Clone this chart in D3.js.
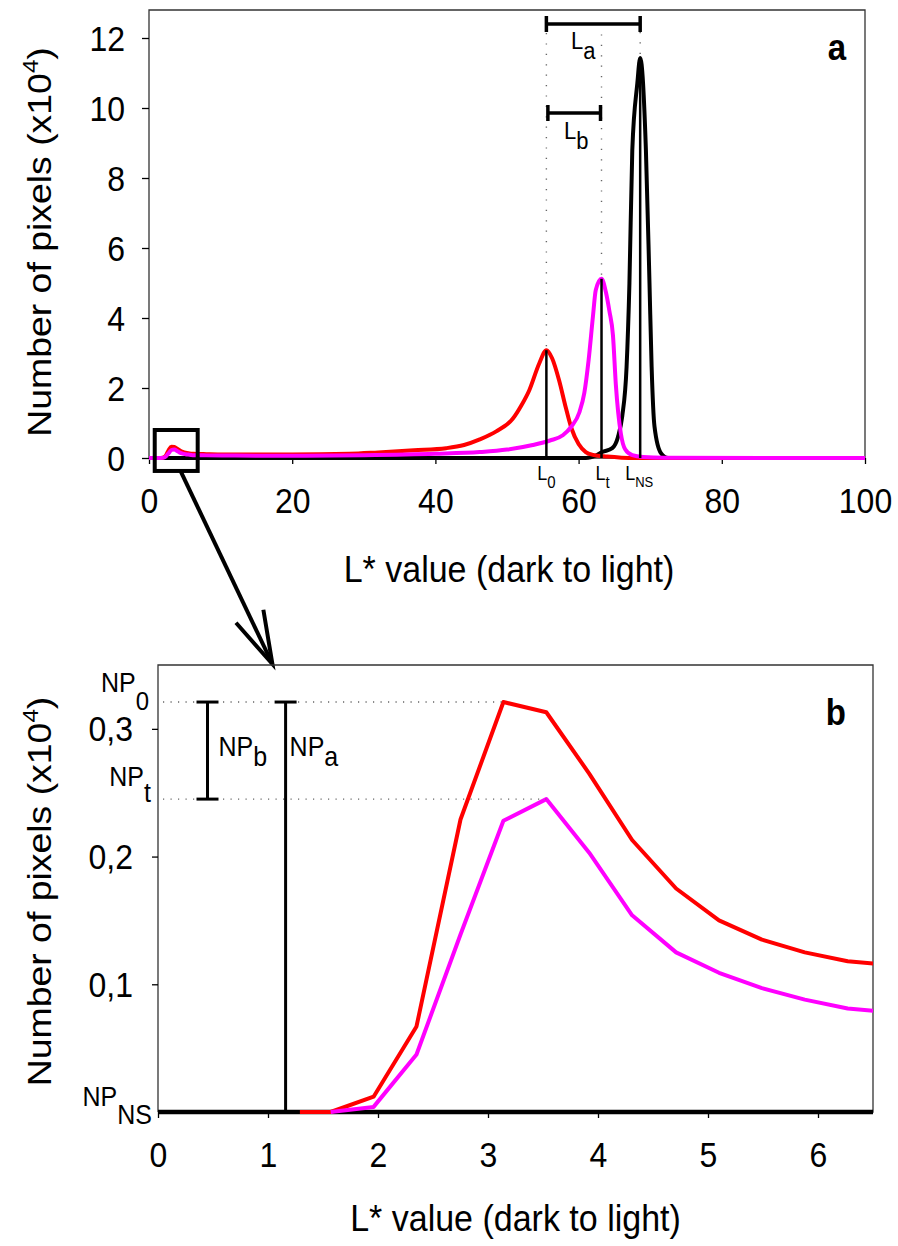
<!DOCTYPE html>
<html>
<head>
<meta charset="utf-8">
<script src="https://cdn.jsdelivr.net/npm/d3@7"></script>
<style>
  html, body { margin: 0; padding: 0; background: #fff; }
  svg { display: block; }
  text { font-family: "Liberation Sans", Arial, Helvetica, sans-serif; fill: #000; }
</style>
</head>
<body>
<svg id="chart" width="898" height="1246"></svg>
<script>
// ---- Data: pixel counts (x10^4) per L* value ----
// low-L detail (shared by both panels)
const redLowL = [1.29, 1.57, 1.96, 2.35, 2.75, 3.14, 3.53, 3.92, 4.31, 4.71, 5.10, 5.49, 5.88, 6.27, 6.67];
const redLowN = [0, 0, 0.012, 0.067, 0.229, 0.321, 0.313, 0.265, 0.213, 0.175, 0.150, 0.135, 0.125, 0.118, 0.115];
const magLowL = [1.57, 1.96, 2.35, 2.75, 3.14, 3.53, 3.92, 4.31, 4.71, 5.10, 5.49, 5.88, 6.27, 6.67];
const magLowN = [0, 0.004, 0.045, 0.139, 0.228, 0.245, 0.203, 0.154, 0.125, 0.109, 0.097, 0.088, 0.081, 0.078];

// full-range continuation
const redHighL = [8, 12, 20, 28, 32, 37, 41.5, 44, 46.2, 48.5, 50.8, 52, 53.1, 54.5, 55.5, 56.3, 57.3, 58.2, 59, 60, 61, 62, 64, 66, 68, 100];
const redHighN = [0.11, 0.10, 0.10, 0.12, 0.16, 0.22, 0.28, 0.37, 0.53, 0.76, 1.12, 1.5, 1.93, 2.7, 3.08, 2.85, 2.2, 1.45, 0.85, 0.4, 0.17, 0.09, 0.04, 0.01, 0, 0];
const magHighL = [8, 12, 20, 30, 40, 46.2, 50, 53.6, 56, 57.8, 59, 60.1, 60.8, 61.4, 62, 62.4, 63.2, 63.8, 64.3, 64.8, 65.2, 65.9, 66.5, 67.5, 69, 72, 100];
const magHighN = [0.075, 0.07, 0.065, 0.08, 0.12, 0.17, 0.24, 0.37, 0.5, 0.65, 0.9, 1.3, 1.86, 2.8, 4.04, 4.8, 5.12, 4.75, 4.2, 3.5, 2.1, 0.7, 0.25, 0.08, 0.03, 0.01, 0];
const nsL = [0, 61, 62.5, 63.3, 64.7, 65.5, 66.1, 66.7, 67.1, 67.5, 68.2, 68.6, 69.4, 69.9, 70.2, 70.6, 71.5, 72.5, 100];
const nsN = [0, 0, 0.08, 0.17, 0.28, 0.6, 1.2, 2.6, 5.0, 8.8, 10.7, 11.43, 8.8, 5.0, 2.6, 0.9, 0.14, 0, 0];

// axis ticks
const ticksXA = [0, 20, 40, 60, 80, 100];
const ticksYA = [0, 2, 4, 6, 8, 10, 12];
const ticksXB = [0, 1, 2, 3, 4, 5, 6];
const ticksYB = [0.1, 0.2, 0.3];

// positions of the NP brackets in panel b (L*)
const npBracketB = 0.45;
const npBracketA = 1.16;

const zip = (xs, ys) => xs.map((x, i) => ({ x, y: ys[i] }));
const redFull = [{ x: 0, y: 0 }].concat(zip(redLowL, redLowN), zip(redHighL, redHighN));
const magFull = [{ x: 0, y: 0 }].concat(zip(magLowL, magLowN), zip(magHighL, magHighN));
const nsFull = zip(nsL, nsN);
const redLow = zip(redLowL, redLowN);
const magLow = zip(magLowL, magLowN);
const nsLow = [{ x: 0, y: 0 }, { x: 6.67, y: 0 }];

const RED = "#ff0000", MAG = "#ff00ff";
const STRETCH = 1.1; // text is drawn slightly taller than wide
const svg = d3.select("#chart");

// ---- scales ----
const xA = d3.scaleLinear().domain([0, 100]).range([149, 865]);
const yA = d3.scaleLinear().domain([0, 12.8]).range([458, 10]);
const xB = d3.scaleLinear().domain([0, 6.5]).range([158, 873]);
const yB = d3.scaleLinear().domain([0, 0.35]).range([1112, 665]);

const TICK_FS = 32, TITLE_FS = 34;

// stretch a text vertically about its own baseline
function stretch(sel) {
  sel.each(function () {
    const t = d3.select(this);
    const y = +(t.attr("y") || 0);
    t.attr("transform", `translate(0,${y}) scale(1,${STRETCH}) translate(0,${-y})`);
  });
}

function frame(x, y) {
  const [x0, x1] = x.range(), [y0, y1] = y.range();
  svg.append("path")
    .attr("d", `M${x0},${y0}V${y1}H${x1}V${y0}H${x0}`)
    .attr("fill", "none").attr("stroke", "#333").attr("stroke-width", 1.3);
}

function yTitle(cx, cy) {
  const t = svg.append("text")
    .attr("transform", `translate(${cx},${cy}) scale(1,${STRETCH}) rotate(-90)`)
    .attr("text-anchor", "middle")
    .style("font-size", TITLE_FS + "px");
  t.append("tspan").text("Number of pixels (x10");
  t.append("tspan").attr("dy", -13).style("font-size", "22px").text("4");
  t.append("tspan").attr("dy", 13).text(")");
}

function xTitle(cx, by) {
  const t = svg.append("text").attr("x", cx).attr("y", by).attr("text-anchor", "middle")
    .style("font-size", TITLE_FS + "px").text("L* value (dark to light)");
  stretch(t);
}

function subLabel(x, y, main, sub, fs, subFs, dy, anchor) {
  const t = svg.append("text").attr("x", x).attr("y", y)
    .attr("text-anchor", anchor || "start").style("font-size", fs + "px");
  t.append("tspan").text(main);
  t.append("tspan").attr("dy", dy).style("font-size", subFs + "px").text(sub);
  stretch(t);
  return t;
}

// =================== Panel a ===================
frame(xA, yA);
const axA = svg.append("g").attr("transform", `translate(0,${yA(0)})`)
  .call(d3.axisBottom(xA).tickValues(ticksXA).tickSize(6).tickFormat(d3.format("d")));
axA.select(".domain").remove();
axA.selectAll("line").attr("stroke", "#000").attr("stroke-width", 1.3);
axA.selectAll("text").style("font-size", TICK_FS + "px").attr("dy", null).attr("y", 55).call(stretch);

const ayA = svg.append("g").attr("transform", `translate(${xA(0)},0)`)
  .call(d3.axisLeft(yA).tickValues(ticksYA).tickSize(7).tickPadding(17).tickFormat(d3.format("d")));
ayA.select(".domain").remove();
ayA.selectAll("line").attr("stroke", "#000").attr("stroke-width", 1.3);
ayA.selectAll("text").style("font-size", TICK_FS + "px").attr("dy", null).attr("y", 12).call(stretch);

const lineA = d3.line().x(d => xA(d.x)).y(d => yA(d.y)).curve(d3.curveMonotoneX);
svg.append("path").datum(nsFull).attr("d", lineA).attr("fill", "none").attr("stroke", "#000").attr("stroke-width", 4).attr("stroke-linejoin", "round");
svg.append("path").datum(redFull).attr("d", lineA).attr("fill", "none").attr("stroke", RED).attr("stroke-width", 4).attr("stroke-linejoin", "round");
svg.append("path").datum(magFull).attr("d", lineA).attr("fill", "none").attr("stroke", MAG).attr("stroke-width", 4).attr("stroke-linejoin", "round");

// peak markers L0, Lt, LNS
const peakOf = arr => arr[d3.maxIndex(arr, d => d.y)];
const pRed = peakOf(zip(redHighL, redHighN));
const pMag = peakOf(zip(magHighL, magHighN));
const pNs = peakOf(nsFull);
const dotTops = [17, 27, 27];
[pRed, pMag, pNs].forEach((p, i) => {
  svg.append("line").attr("x1", xA(p.x)).attr("x2", xA(p.x)).attr("y1", yA(0)).attr("y2", yA(p.y))
    .attr("stroke", "#000").attr("stroke-width", 2.5);
  svg.append("line").attr("x1", xA(p.x)).attr("x2", xA(p.x)).attr("y1", yA(p.y) - 4).attr("y2", dotTops[i])
    .attr("stroke", "#666").attr("stroke-width", 1.4).attr("stroke-dasharray", "1.2,9.2");
});

// L labels under the axis
subLabel(xA(pRed.x) - 9, 480, "L", "0", 18, 15, 7);
subLabel(xA(pMag.x) - 6, 480, "L", "t", 18, 15, 7);
subLabel(xA(pNs.x) - 15, 480, "L", "NS", 18, 13, 6);

// La / Lb brackets
function hBracket(xa, xb, y, cap) {
  const g = svg.append("g").attr("stroke", "#000").attr("stroke-width", 3.5);
  g.append("line").attr("x1", xa).attr("x2", xb).attr("y1", y).attr("y2", y);
  g.append("line").attr("x1", xa).attr("x2", xa).attr("y1", y - cap).attr("y2", y + cap);
  g.append("line").attr("x1", xb).attr("x2", xb).attr("y1", y - cap).attr("y2", y + cap);
}
hBracket(xA(pRed.x), xA(pNs.x), 24, 8);
hBracket(xA(pRed.x) + 1.5, xA(pMag.x) - 1, 113, 8);
subLabel(571, 49, "L", "a", 22, 22, 9);
subLabel(564, 139, "L", "b", 22, 22, 9);

stretch(svg.append("text").attr("x", 846).attr("y", 60).attr("text-anchor", "end")
  .style("font-size", "33px").style("font-weight", "bold").text("a"));

yTitle(51, (yA.range()[0] + yA.range()[1]) / 2 + 8);
xTitle((xA.range()[0] + xA.range()[1]) / 2 + 2, 582);

// zoom box and arrow towards panel b
const bx0 = xA(0.8), bx1 = xA(6.8), by0 = yA(0.8), by1 = yA(-0.37);
svg.append("rect").attr("x", bx0).attr("y", by0).attr("width", bx1 - bx0).attr("height", by1 - by0)
  .attr("fill", "none").attr("stroke", "#000").attr("stroke-width", 4);
const ax0 = xA(4.4), ay0 = by1, ax1 = xB(1.04), ay1 = yB.range()[1] - 1;
const ang = Math.atan2(ay1 - ay0, ax1 - ax0), headLen = 55, spread = 16 * Math.PI / 180;
const arrow = svg.append("g").attr("stroke", "#000").attr("stroke-width", 4).attr("fill", "none");
arrow.append("line").attr("x1", ax0).attr("y1", ay0).attr("x2", ax1).attr("y2", ay1);
arrow.append("path").attr("d",
  `M${ax1 - headLen * Math.cos(ang - spread)},${ay1 - headLen * Math.sin(ang - spread)}` +
  `L${ax1},${ay1}` +
  `L${ax1 - headLen * Math.cos(ang + spread)},${ay1 - headLen * Math.sin(ang + spread)}`)
  .attr("stroke-linejoin", "miter");

// =================== Panel b ===================
frame(xB, yB);
const axB = svg.append("g").attr("transform", `translate(0,${yB(0)})`)
  .call(d3.axisBottom(xB).tickValues(ticksXB).tickSize(6).tickFormat(d3.format("d")));
axB.select(".domain").remove();
axB.selectAll("line").attr("stroke", "#000").attr("stroke-width", 1.3);
axB.selectAll("text").style("font-size", TICK_FS + "px").attr("dy", null).attr("y", 55).call(stretch);

const ayB = svg.append("g").attr("transform", `translate(${xB(0)},0)`)
  .call(d3.axisLeft(yB).tickValues(ticksYB).tickSize(6).tickPadding(19)
    .tickFormat(d => d3.format(".1f")(d).replace(".", ",")));
ayB.select(".domain").remove();
ayB.selectAll("line").attr("stroke", "#000").attr("stroke-width", 1.3);
ayB.selectAll("text").style("font-size", TICK_FS + "px").attr("dy", null).attr("y", 12).call(stretch);

svg.append("clipPath").attr("id", "clipB").append("rect")
  .attr("x", xB.range()[0]).attr("y", yB.range()[1])
  .attr("width", xB.range()[1] - xB.range()[0]).attr("height", yB.range()[0] - yB.range()[1] + 4);
const lineB = d3.line().x(d => xB(d.x)).y(d => yB(d.y));
const gB = svg.append("g").attr("clip-path", "url(#clipB)");
gB.append("path").datum(nsLow).attr("d", lineB).attr("fill", "none").attr("stroke", "#000").attr("stroke-width", 4.5);
gB.append("path").datum(redLow).attr("d", lineB).attr("fill", "none").attr("stroke", RED).attr("stroke-width", 4).attr("stroke-linejoin", "round");
gB.append("path").datum(magLow).attr("d", lineB).attr("fill", "none").attr("stroke", MAG).attr("stroke-width", 4).attr("stroke-linejoin", "round");

// NP reference lines
const np0 = peakOf(redLow), npT = peakOf(magLow);
[np0, npT].forEach(p => {
  svg.append("line").attr("x1", xB(0) + 5).attr("x2", xB(p.x)).attr("y1", yB(p.y)).attr("y2", yB(p.y))
    .attr("stroke", "#666").attr("stroke-width", 1.4).attr("stroke-dasharray", "1.2,6.3");
});

function vBracket(x, ya, yb, capTop, capBot) {
  const g = svg.append("g").attr("stroke", "#000").attr("stroke-width", 3);
  g.append("line").attr("x1", x).attr("x2", x).attr("y1", ya).attr("y2", yb);
  if (capTop) g.append("line").attr("x1", x - 11).attr("x2", x + 11).attr("y1", ya).attr("y2", ya);
  if (capBot) g.append("line").attr("x1", x - 11).attr("x2", x + 11).attr("y1", yb).attr("y2", yb);
}
vBracket(xB(npBracketB), yB(np0.y), yB(npT.y), true, true);
vBracket(xB(npBracketA), yB(np0.y), yB(0), true, false);

subLabel(xB(npBracketB) + 11, 756, "NP", "b", 25, 25, 9);
subLabel(xB(npBracketA) + 4, 756, "NP", "a", 25, 25, 9);

// NP labels on the left
subLabel(149, 692, "NP", "0", 25, 24, 16, "end");
subLabel(151, 786, "NP", "t", 25, 25, 15, "end");
subLabel(152, 1106, "NP", "NS", 25, 25, 16, "end");

stretch(svg.append("text").attr("x", 846).attr("y", 725).attr("text-anchor", "end")
  .style("font-size", "33px").style("font-weight", "bold").text("b"));

yTitle(51, (yB.range()[0] + yB.range()[1]) / 2 + 3);
xTitle((xB.range()[0] + xB.range()[1]) / 2, 1231);
</script>
</body>
</html>
